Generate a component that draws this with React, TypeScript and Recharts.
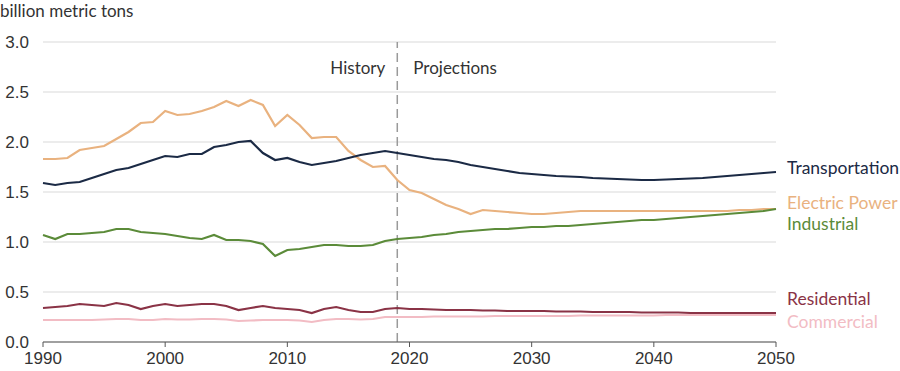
import { LineChart, Line, XAxis, YAxis, CartesianGrid, ReferenceLine } from 'recharts';

const years = [
  1990, 1991, 1992, 1993, 1994, 1995, 1996, 1997, 1998, 1999,
  2000, 2001, 2002, 2003, 2004, 2005, 2006, 2007, 2008, 2009,
  2010, 2011, 2012, 2013, 2014, 2015, 2016, 2017, 2018, 2019,
  2020, 2021, 2022, 2023, 2024, 2025, 2026, 2027, 2028, 2029,
  2030, 2031, 2032, 2033, 2034, 2035, 2036, 2037, 2038, 2039,
  2040, 2041, 2042, 2043, 2044, 2045, 2046, 2047, 2048, 2049,
  2050,
];

const transportation = [
  1.59, 1.57, 1.59, 1.60, 1.64, 1.68, 1.72, 1.74, 1.78, 1.82,
  1.86, 1.85, 1.88, 1.88, 1.95, 1.97, 2.00, 2.01, 1.89, 1.82,
  1.84, 1.80, 1.77, 1.79, 1.81, 1.84, 1.87, 1.89, 1.91, 1.89,
  1.87, 1.85, 1.83, 1.82, 1.80, 1.77, 1.75, 1.73, 1.71, 1.69,
  1.68, 1.67, 1.66, 1.655, 1.65, 1.64, 1.635, 1.63, 1.625, 1.62,
  1.62, 1.625, 1.63, 1.635, 1.64, 1.65, 1.66, 1.67, 1.68, 1.69,
  1.70,
];

const electricPower = [
  1.83, 1.83, 1.84, 1.92, 1.94, 1.96, 2.03, 2.10, 2.19, 2.20,
  2.31, 2.27, 2.28, 2.31, 2.35, 2.41, 2.36, 2.42, 2.37, 2.16,
  2.27, 2.17, 2.04, 2.05, 2.05, 1.91, 1.82, 1.75, 1.76, 1.62,
  1.52, 1.49, 1.43, 1.37, 1.33, 1.28, 1.32, 1.31, 1.30, 1.29,
  1.28, 1.28, 1.29, 1.30, 1.31, 1.31, 1.31, 1.31, 1.31, 1.31,
  1.31, 1.31, 1.31, 1.31, 1.31, 1.31, 1.31, 1.32, 1.32, 1.33,
  1.33,
];

const industrial = [
  1.07, 1.03, 1.08, 1.08, 1.09, 1.10, 1.13, 1.13, 1.10, 1.09,
  1.08, 1.06, 1.04, 1.03, 1.07, 1.02, 1.02, 1.01, 0.98, 0.86,
  0.92, 0.93, 0.95, 0.97, 0.97, 0.96, 0.96, 0.97, 1.01, 1.03,
  1.04, 1.05, 1.07, 1.08, 1.10, 1.11, 1.12, 1.13, 1.13, 1.14,
  1.15, 1.15, 1.16, 1.16, 1.17, 1.18, 1.19, 1.20, 1.21, 1.22,
  1.22, 1.23, 1.24, 1.25, 1.26, 1.27, 1.28, 1.29, 1.30, 1.31,
  1.33,
];

const residential = [
  0.34, 0.35, 0.36, 0.38, 0.37, 0.36, 0.39, 0.37, 0.33, 0.36,
  0.38, 0.36, 0.37, 0.38, 0.38, 0.36, 0.32, 0.34, 0.36, 0.34,
  0.33, 0.32, 0.29, 0.33, 0.35, 0.32, 0.30, 0.30, 0.33, 0.34,
  0.33, 0.33, 0.325, 0.32, 0.32, 0.32, 0.315, 0.315, 0.31, 0.31,
  0.31, 0.31, 0.305, 0.305, 0.305, 0.30, 0.30, 0.30, 0.30, 0.295,
  0.295, 0.295, 0.295, 0.29, 0.29, 0.29, 0.29, 0.29, 0.29, 0.29,
  0.29,
];

const commercial = [
  0.22, 0.22, 0.22, 0.22, 0.22, 0.225, 0.23, 0.23, 0.22, 0.22,
  0.23, 0.225, 0.225, 0.23, 0.23, 0.225, 0.21, 0.215, 0.22, 0.22,
  0.22, 0.215, 0.20, 0.22, 0.23, 0.23, 0.225, 0.23, 0.25, 0.25,
  0.25, 0.25, 0.255, 0.255, 0.255, 0.255, 0.255, 0.26, 0.26, 0.26,
  0.26, 0.26, 0.26, 0.26, 0.265, 0.265, 0.265, 0.265, 0.265, 0.265,
  0.265, 0.27, 0.27, 0.27, 0.27, 0.27, 0.27, 0.27, 0.27, 0.27,
  0.27,
];

const xTicks = [1990, 2000, 2010, 2020, 2030, 2040, 2050];
const yTicks = [0, 0.5, 1, 1.5, 2, 2.5, 3];
const projectionStart = 2019;

const data = years.map((year, i) => ({
  year,
  transportation: transportation[i],
  electricPower: electricPower[i],
  industrial: industrial[i],
  residential: residential[i],
  commercial: commercial[i],
}));

const labelFont = 'Lato, "Noto Sans", sans-serif';
const tickFont = '"Liberation Sans", Arial, sans-serif';

// end-of-line series name, drawn only on the last point
const endLabel = (name: string, color: string, dy: number) => (props: any) => {
  const { x, y, index } = props;
  if (index !== years.length - 1) return null;
  return (
    <text x={x + 11} y={y + dy} fill={color} fontSize={17.5} fontFamily={labelFont} dominantBaseline="central">
      {name}
    </text>
  );
};

const phaseLabels = (props: any) => {
  const { viewBox } = props;
  const x = viewBox.x;
  const y = viewBox.y + 25;
  return (
    <g fontFamily={labelFont} fontSize={17} fill="#333">
      <text x={x - 12} y={y} textAnchor="end" dominantBaseline="central">History</text>
      <text x={x + 16} y={y} textAnchor="start" dominantBaseline="central">Projections</text>
    </g>
  );
};

export default function App() {
  return (
    <div style={{ position: 'absolute', left: 0, top: 0, width: 900, height: 371, background: '#fff' }}>
      <div style={{ position: 'absolute', left: 0, top: 0, fontFamily: labelFont, fontSize: 17, color: '#333', lineHeight: '21px' }}>
        billion metric tons
      </div>
      <LineChart width={900} height={371} data={data} margin={{ top: 42, right: 124, bottom: 0, left: 0 }}>
        <CartesianGrid vertical={false} stroke="#e6e6e6" strokeWidth={1.5} />
        <XAxis
          dataKey="year"
          type="number"
          domain={[1990, 2050]}
          ticks={xTicks}
          height={29}
          tickSize={5}
          tickMargin={5}
          stroke="#555"
          tick={{ fill: '#333', fontSize: 17, fontFamily: tickFont }}
          interval={0}
        />
        <YAxis
          domain={[0, 3]}
          ticks={yTicks}
          width={43}
          axisLine={false}
          tickLine={false}
          tickSize={0}
          tickMargin={14}
          tickFormatter={(v: number) => v.toFixed(1)}
          tick={{ fill: '#333', fontSize: 17, fontFamily: tickFont }}
        />
        <ReferenceLine x={projectionStart} stroke="#9a9a9a" strokeWidth={1.5} strokeDasharray="9 5" label={phaseLabels} />
        <Line type="linear" dataKey="commercial" stroke="#f2bcc4" strokeWidth={2.2} dot={false} isAnimationActive={false} label={endLabel('Commercial', '#f2bcc4', 6)} />
        <Line type="linear" dataKey="residential" stroke="#8a3346" strokeWidth={2.2} dot={false} isAnimationActive={false} label={endLabel('Residential', '#8a3346', -15)} />
        <Line type="linear" dataKey="electricPower" stroke="#e9b27f" strokeWidth={2.2} dot={false} isAnimationActive={false} label={endLabel('Electric Power', '#e9b27f', -7)} />
        <Line type="linear" dataKey="industrial" stroke="#5b8b39" strokeWidth={2.2} dot={false} isAnimationActive={false} label={endLabel('Industrial', '#5b8b39', 14)} />
        <Line type="linear" dataKey="transportation" stroke="#1b2a45" strokeWidth={2.2} dot={false} isAnimationActive={false} label={endLabel('Transportation', '#1b2a45', -5)} />
      </LineChart>
    </div>
  );
}
